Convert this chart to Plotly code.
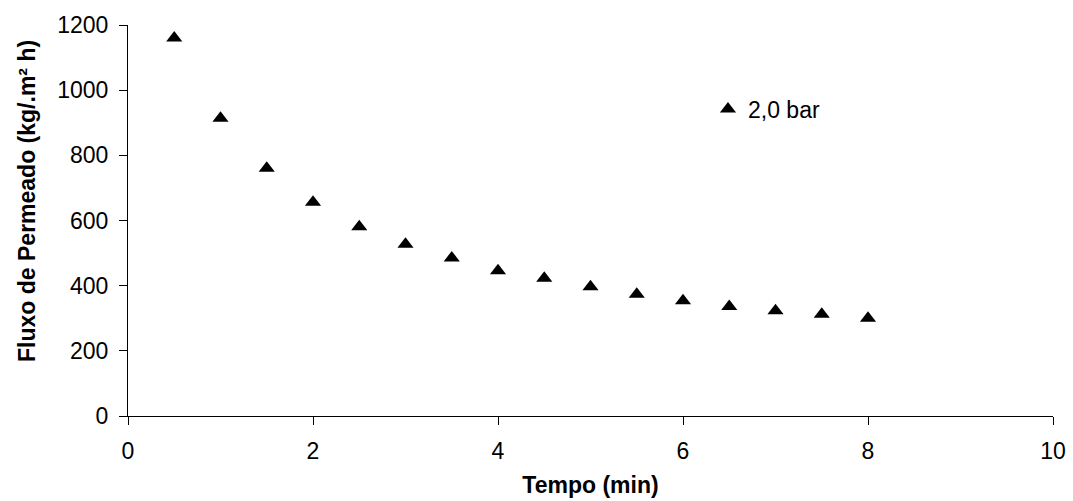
import plotly.graph_objects as go

tempo = [0.5, 1.0, 1.5, 2.0, 2.5, 3.0, 3.5, 4.0, 4.5, 5.0, 5.5, 6.0, 6.5, 7.0, 7.5, 8.0]
fluxo = [1160, 914, 760, 656, 581, 527, 485, 446, 423, 397, 374, 354, 336, 323, 312, 300]
serie = "2,0 bar"
x_title = "<b>Tempo (min)</b>"
y_title = "<b>Fluxo de Permeado (kg/.m² h)</b>"

fig = go.Figure()
fig.add_trace(go.Scatter(
    x=tempo, y=fluxo, mode="markers", name=serie,
    marker=dict(symbol="triangle-up", size=14, color="black"),
))

font_family = "Liberation Sans, Arial, sans-serif"
fig.update_layout(
    width=1073, height=501,
    margin=dict(l=128, r=20, t=25, b=85),
    paper_bgcolor="white", plot_bgcolor="white",
    font=dict(family=font_family, size=23, color="black"),
    showlegend=True,
    legend=dict(x=0.627, y=0.785, xanchor="left", yanchor="middle",
                bgcolor="rgba(0,0,0,0)", font=dict(size=23)),
    xaxis=dict(range=[0, 10], tickvals=[0, 2, 4, 6, 8, 10],
               showline=True, linecolor="black", linewidth=1,
               ticks="outside", ticklen=8, tickcolor="black",
               ticklabelstandoff=6, automargin=False,
               showgrid=False, zeroline=False,
               title=dict(text=x_title, font=dict(size=23), standoff=14)),
    yaxis=dict(range=[0, 1200], tickvals=[0, 200, 400, 600, 800, 1000, 1200],
               showline=True, linecolor="black", linewidth=1,
               ticks="outside", ticklen=8, tickcolor="black",
               ticklabelstandoff=6, automargin=False,
               showgrid=False, zeroline=False),
    annotations=[dict(text=y_title, textangle=-90, showarrow=False,
                      xref="paper", yref="paper", x=0, y=0.55,
                      xanchor="center", yanchor="middle", xshift=-101,
                      font=dict(size=23))],
)

fig.write_html("out.html")
